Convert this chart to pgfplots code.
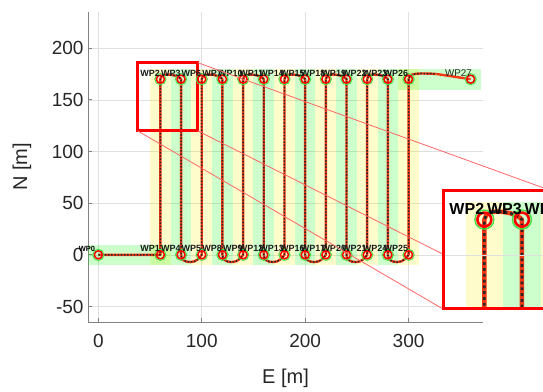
\documentclass[border=0pt]{standalone}
\usepackage{fontspec}
\setmainfont{Liberation Sans}
\usepackage{pgfplots}
\usepackage{pgfplotstable}
\pgfplotsset{compat=1.18}
\definecolor{pathred}{RGB}{245,55,20}
\definecolor{ringgreen}{RGB}{70,225,70}
\definecolor{axgray}{RGB}{130,130,130}
\definecolor{txtgray}{RGB}{38,38,38}
\definecolor{gridgray}{RGB}{223,223,223}

% waypoints
\pgfplotstableread{
x y
0 0
60 0
60 170
80 170
80 0
100 0
100 170
120 170
120 0
140 0
140 170
160 170
160 0
180 0
180 170
200 170
200 0
220 0
220 170
240 170
240 0
260 0
260 170
280 170
280 0
300 0
300 170
360 170
}\wp

\pgfplotstableread{
x y label
60 0 WP1
60 170 WP2
80 170 WP3
80 0 WP4
100 0 WP5
100 170 WP6
120 170 WP7
120 0 WP8
140 0 WP9
140 170 WP10
160 170 WP11
160 0 WP12
180 0 WP13
180 170 WP14
200 170 WP15
200 0 WP16
220 0 WP17
220 170 WP18
240 170 WP19
240 0 WP20
260 0 WP21
260 170 WP22
280 170 WP23
280 0 WP24
300 0 WP25
300 170 WP26
}\wplab

% trajectory
\pgfplotstableread{
x y
0 0
60 0
60 170
61 172.5
63 174
66 174.5
70 174.3
74 173.5
77 172.2
79 171
80 170
80 0
80.5 -2.5
82 -5
85 -6.5
89 -7
93 -6.3
96 -4.5
98.5 -2
100 0
100 170
101 172.5
103 174
106 174.5
110 174.3
114 173.5
117 172.2
119 171
120 170
120 0
120.5 -2.5
122 -5
125 -6.5
129 -7
133 -6.3
136 -4.5
138.5 -2
140 0
140 170
141 172.5
143 174
146 174.5
150 174.3
154 173.5
157 172.2
159 171
160 170
160 0
160.5 -2.5
162 -5
165 -6.5
169 -7
173 -6.3
176 -4.5
178.5 -2
180 0
180 170
181 172.5
183 174
186 174.5
190 174.3
194 173.5
197 172.2
199 171
200 170
200 0
200.5 -2.5
202 -5
205 -6.5
209 -7
213 -6.3
216 -4.5
218.5 -2
220 0
220 170
221 172.5
223 174
226 174.5
230 174.3
234 173.5
237 172.2
239 171
240 170
240 0
240.5 -2.5
242 -5
245 -6.5
249 -7
253 -6.3
256 -4.5
258.5 -2
260 0
260 170
261 172.5
263 174
266 174.5
270 174.3
274 173.5
277 172.2
279 171
280 170
280 0
280.5 -2.5
282 -5
285 -6.5
289 -7
293 -6.3
296 -4.5
298.5 -2
300 0
300 170
301 172.5
303 174.3
307 175.2
312 175.5
320 175.4
327 175
}\traj

\newcommand\strip[3]{\addplot[fill=#1,fill opacity=0.2,draw=none,forget plot] coordinates {(#2,-10) (#3,-10) (#3,180) (#2,180)};}
\newcommand\corridors{%
 \strip{yellow}{50}{70}
 \strip{green}{70}{90}
 \strip{yellow}{90}{110}
 \strip{green}{110}{130}
 \strip{yellow}{130}{150}
 \strip{green}{150}{170}
 \strip{yellow}{170}{190}
 \strip{green}{190}{210}
 \strip{yellow}{210}{230}
 \strip{green}{230}{250}
 \strip{yellow}{250}{270}
 \strip{green}{270}{290}
 \strip{yellow}{290}{310}
 \addplot[fill=green,fill opacity=0.2,draw=none,forget plot] coordinates {(-10,-10) (70,-10) (70,10) (-10,10)};
 \addplot[fill=green,fill opacity=0.2,draw=none,forget plot] coordinates {(290,160) (370,160) (370,180) (290,180)};
}
\newcommand\paths[3]{%
 \addplot[pathred, line width=#1, line join=round] table {\traj};
 \addplot[pathred, line width=#1] coordinates {(327,175) (360,170)};
 \addplot[black!85, line width=#2, dash pattern=on #3 off #3] table {\traj};
}

\begin{document}
\begin{tikzpicture}
\path[use as bounding box] (0,0) rectangle (543pt,391pt);
\begin{axis}[
  at={(88pt,69pt)}, anchor=south west, scale only axis,
  width=395pt, height=310pt,
  xmin=-10, xmax=372, ymin=-65, ymax=235,
  axis x line=bottom, axis y line=left,
  xtick={0,100,200,300}, ytick={-50,0,50,100,150,200},
  grid=major, grid style={gridgray, line width=0.6pt},
  axis line style={axgray, line width=0.8pt, -},
  tick style={axgray, line width=0.8pt},
  tick align=inside, major tick length=4pt,
  ticklabel style={font=\fontsize{19}{22}\selectfont, text=txtgray},
  /pgf/number format/assume math mode=true,
  xticklabel style={yshift=-9pt},
  yticklabel style={xshift=-1pt},
  xlabel={E [m]}, ylabel={N [m]},
  label style={font=\fontsize{20}{24}\selectfont, text=txtgray},
  xlabel style={at={(axis description cs:0.5,-0.181)}, anchor=center},
  ylabel style={at={(axis description cs:-0.167,0.5)}, anchor=center},
]
\corridors
\paths{2.4pt}{1.5pt}{1.6pt}
\addplot[only marks, mark=o, mark size=5.6pt, mark options={draw=ringgreen, line width=1pt}] table {\wp};
\addplot[only marks, mark=o, mark size=4pt, mark options={draw=red, line width=1.5pt}] table {\wp};
\addplot[only marks, mark=none, nodes near coords, point meta=explicit symbolic,
  every node near coord/.append style={anchor=base east, inner sep=0pt, font=\fontsize{9}{10}\selectfont\bfseries, text=black!90, yshift=3pt, xshift=-0.3pt}]
  table[meta=label] {\wplab};
\addplot[only marks, mark=none, nodes near coords, point meta=explicit symbolic,
  every node near coord/.append style={anchor=base east, inner sep=0pt, font=\fontsize{7.5}{8}\selectfont\bfseries, text=black, yshift=3.5pt, xshift=-3pt}]
  coordinates {(0,0) [WP0]};
\addplot[only marks, mark=none, nodes near coords, point meta=explicit symbolic,
  every node near coord/.append style={anchor=base east, inner sep=0pt, font=\fontsize{9.8}{10}\selectfont, text=txtgray, yshift=2.7pt, xshift=1.5pt}]
  coordinates {(360,170) [WP27]};
\draw[red, line width=3pt] (axis cs:38,120) rectangle (axis cs:96,186);
\coordinate (rTR) at (axis cs:96,186);
\coordinate (rBR) at (axis cs:96,120);
\coordinate (rBL) at (axis cs:38,120);
\end{axis}
\draw[red!60, line width=0.8pt] (rTR) -- (552pt,200pt);
\draw[red!60, line width=0.8pt] (rBR) -- (552pt,82pt);
\draw[red!60, line width=0.8pt] (rBL) -- (443pt,82pt);
\begin{axis}[
  at={(443pt,82pt)}, anchor=south west, scale only axis,
  width=109pt, height=118pt,
  xmin=38, xmax=96, ymin=120, ymax=186,
  xtick={0,100}, ytick={150}, xticklabels={}, yticklabels={},
  major tick length=0pt,
  grid=major, grid style={gridgray, line width=0.8pt},
  axis line style={red, line width=3pt},
  axis background/.style={fill=white},
  axis on top, clip mode=individual,
]
\corridors
\paths{4.4pt}{2.7pt}{2.9pt}
\addplot[only marks, mark=o, mark size=9.5pt, mark options={draw=ringgreen, line width=1.4pt},
  restrict y to domain=100:200, restrict x to domain=30:95] table {\wp};
\addplot[only marks, mark=o, mark size=7pt, mark options={draw=red, line width=2.6pt},
  restrict y to domain=100:200, restrict x to domain=30:95] table {\wp};
\end{axis}
\begin{axis}[
  at={(443pt,82pt)}, anchor=south west, scale only axis,
  width=109pt, height=118pt,
  xmin=38, xmax=96, ymin=120, ymax=186,
  hide axis, clip=false,
]
\addplot[only marks, mark=none, nodes near coords, point meta=explicit symbolic,
  restrict y to domain=100:200, restrict x to domain=30:110,
  every node near coord/.append style={anchor=base east, inner sep=0pt, font=\fontsize{16}{18}\selectfont\bfseries, text=black, yshift=5.5pt}]
  table[meta=label] {\wplab};
\end{axis}
\end{tikzpicture}
\end{document}
